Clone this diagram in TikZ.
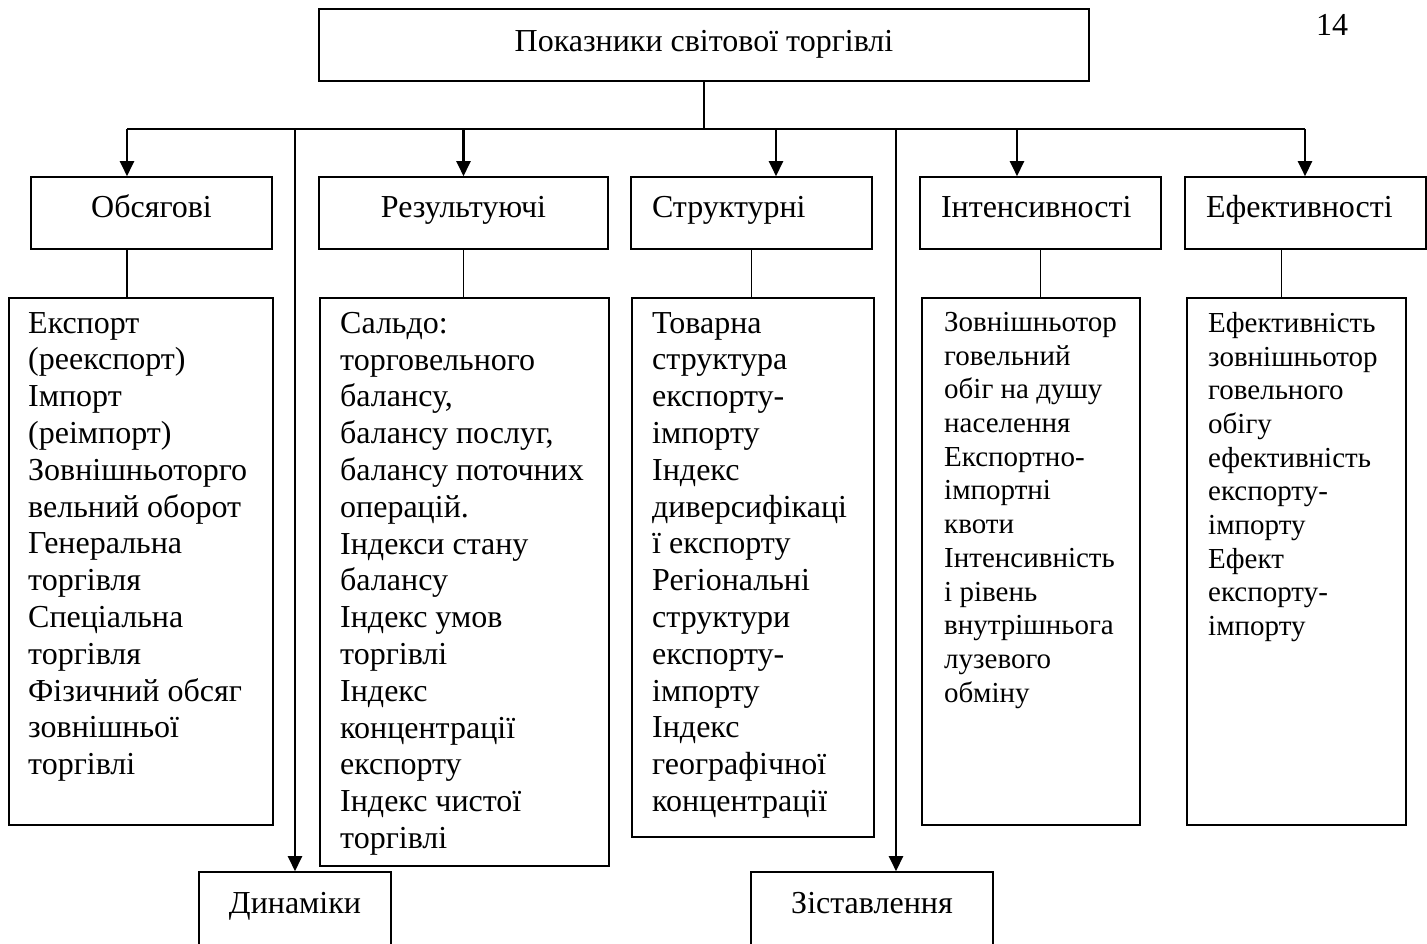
\documentclass[tikz,border=0pt]{standalone}
\usepackage{fontspec}
\setmainfont{Liberation Serif}
\usetikzlibrary{arrows.meta}

\tikzset{
  box/.style={draw,line width=1.6pt,inner sep=0pt},
  big/.style={font=\fontsize{32}{36.8}\selectfont},
  small/.style={font=\fontsize{29}{33.7}\selectfont},
  cat/.style={box,big,minimum height=72pt,text height=18pt,text depth=8pt},
  catl/.style={align=left,inner xsep=21pt,text width=199pt},
  list/.style={inner sep=0pt,anchor=north west,align=left,execute at begin node=\strut},
  arr/.style={-{Triangle[length=15pt,width=14pt]},line width=2.4pt},
  bar/.style={line width=2.4pt},
  link/.style={line width=1.2pt},
}

\begin{document}
\begin{tikzpicture}[x=1pt,y=-1pt]
\clip (0,0) rectangle (1427,944);
\node[box,big,minimum width=770pt,minimum height=72pt,text height=20pt,text depth=6pt] (top) at (704,45) {Показники світової торгівлі};
\node[big,inner sep=0pt] (page) at (1332,25) {14};

% kinds of indicators
\node[cat,minimum width=241pt] (obs) at (151.5,213) {Обсягові};
\node[cat,minimum width=289pt] (res) at (463.5,213) {Результуючі};
\node[cat,catl] (str) at (751.5,213) {Структурні};
\node[cat,catl] (int) at (1040.5,213) {Інтенсивності};
\node[cat,catl] (eff) at (1305.5,213) {Ефективності};

% lists
\node[box,anchor=north west,minimum width=264pt,minimum height=527pt] (obsd) at (8,297) {};
\node[box,anchor=north west,minimum width=289pt,minimum height=568pt] (resd) at (319,297) {};
\node[box,anchor=north west,minimum width=242pt,minimum height=539pt] (strd) at (631,297) {};
\node[box,anchor=north west,minimum width=218pt,minimum height=527pt] (intd) at (921,297) {};
\node[box,anchor=north west,minimum width=219pt,minimum height=527pt] (effd) at (1186,297) {};

\node[list,big] (obst) at (28,312) {Експорт\\(реекспорт)\\Імпорт\\(реімпорт)\\Зовнішньоторго\\вельний оборот\\Генеральна\\торгівля\\Спеціальна\\торгівля\\Фізичний обсяг\\зовнішньої\\торгівлі};
\node[list,big] (rest) at (340,312) {Сальдо:\\торговельного\\балансу,\\балансу послуг,\\балансу поточних\\операцій.\\Індекси стану\\балансу\\Індекс умов\\торгівлі\\Індекс\\концентрації\\експорту\\Індекс чистої\\торгівлі};
\node[list,big] (strt) at (652,312) {Товарна\\структура\\експорту-\\імпорту\\Індекс\\диверсифікаці\\ї експорту\\Регіональні\\структури\\експорту-\\імпорту\\Індекс\\географічної\\концентрації};
\node[list,small] (intt) at (944,312) {Зовнішньотор\\говельний\\обіг на душу\\населення\\Експортно-\\імпортні\\квоти\\Інтенсивність\\і рівень\\внутрішньога\\лузевого\\обміну};
\node[list,small] (efft) at (1208,312) {Ефективність\\зовнішньотор\\говельного\\обігу\\ефективність\\експорту-\\імпорту\\Ефект\\експорту-\\імпорту};

% bottom boxes
\node[box,big,minimum width=192pt,minimum height=80pt,text height=12pt,text depth=10pt] (dyn) at (295,912) {Динаміки};
\node[box,big,minimum width=242pt,minimum height=80pt,text height=12pt,text depth=10pt] (zis) at (872,912) {Зіставлення};

% connectors
\coordinate (fork) at (704,129);
\coordinate (barl) at (127,129);
\coordinate (barr) at (1305,129);
\coordinate (a3) at (776,129);
\coordinate (a4) at (1017,129);
\coordinate (a6) at (295,129);
\coordinate (a7) at (896,129);
\draw[bar] (top) -- (fork);
\draw[bar] (barl) -- (barr);
\draw[arr] (barl) -- (barl |- obs.north);
\draw[arr] (res.north |- fork) -- (res);
\draw[arr] (a3) -- (a3 |- str.north);
\draw[arr] (a4) -- (a4 |- int.north);
\draw[arr] (barr) -- (barr |- eff.north);
\draw[arr] (a6) -- (a6 |- dyn.north);
\draw[arr] (a7) -- (a7 |- zis.north);

\draw[link] (obs.south -| barl) -- (obsd.north -| barl);
\draw[link] (res) -- (res |- resd.north);
\draw[link] (str) -- (str |- strd.north);
\draw[link] (int) -- (int |- intd.north);
\draw[link] ([xshift=-24pt]eff.south) -- ([xshift=-24pt]eff.south |- effd.north);
\end{tikzpicture}
\end{document}
